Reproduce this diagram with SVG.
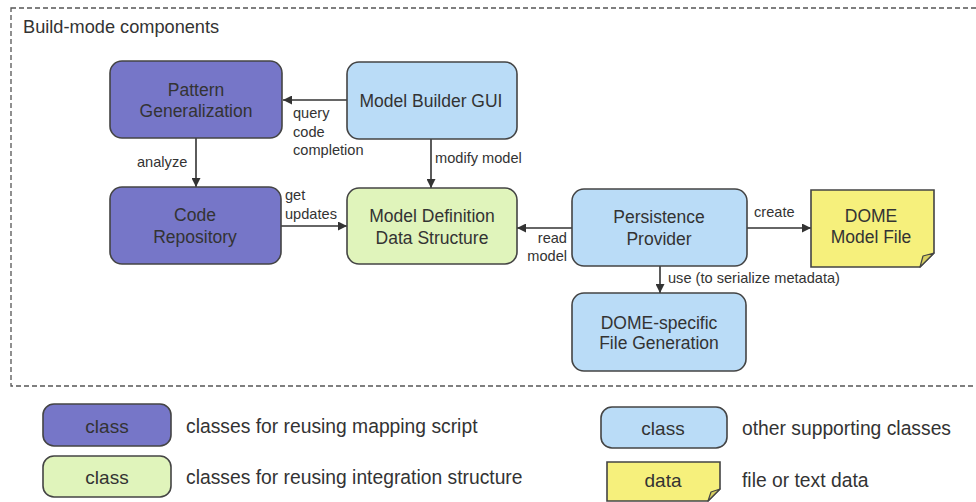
<svg xmlns="http://www.w3.org/2000/svg" width="976" height="502" viewBox="0 0 976 502">
  <defs>
    <marker id="arrow" viewBox="0 0 10 10" refX="10" refY="5" markerWidth="9" markerHeight="9" markerUnits="userSpaceOnUse" orient="auto">
      <path d="M0,0 L10,5 L0,10 Z" fill="#333"/>
    </marker>
    <style>
      .frame { fill: none; stroke: #555; stroke-width: 1.3; stroke-dasharray: 5 3; }
      .box { stroke: #444; stroke-width: 1.6; }
      .mapping { fill: #7676c8; }
      .integration { fill: #e0f4bb; }
      .support { fill: #badcf7; }
      .data { fill: #f6f07c; }
      .fold { fill: #d8d060; stroke: #444; stroke-width: 1.2; stroke-linejoin: round; }
      .edge { fill: none; stroke: #333; stroke-width: 1.6; marker-end: url(#arrow); }
      text { font-family: "Liberation Sans", Arial, sans-serif; fill: #333; }
      .node-label { font-size: 17.5px; text-anchor: middle; }
      .edge-label { font-size: 14.6px; }
      .title { font-size: 18.2px; }
      .legend-text { font-size: 19.3px; }
      .legend-key { font-size: 19px; text-anchor: middle; }
    </style>
  </defs>

  <!-- build-mode boundary -->
  <rect class="frame" x="11" y="8" width="980" height="378"/>
  <text class="title" x="23" y="33">Build-mode components</text>

  <!-- connectors -->
  <g id="connectors">
    <line class="edge" x1="347" y1="100" x2="283" y2="100"/>
    <line class="edge" x1="196" y1="138" x2="196" y2="187"/>
    <line class="edge" x1="431" y1="139" x2="431" y2="188"/>
    <line class="edge" x1="281" y1="226" x2="347" y2="226"/>
    <line class="edge" x1="572" y1="228" x2="517" y2="228"/>
    <line class="edge" x1="747" y1="228" x2="811" y2="228"/>
    <line class="edge" x1="660" y1="266" x2="660" y2="293"/>

    <text class="edge-label" x="293" y="118">query</text>
    <text class="edge-label" x="293" y="137">code</text>
    <text class="edge-label" x="293" y="155">completion</text>
    <text class="edge-label" x="137" y="167">analyze</text>
    <text class="edge-label" x="435" y="163">modify model</text>
    <text class="edge-label" x="285" y="200">get</text>
    <text class="edge-label" x="285" y="219">updates</text>
    <text class="edge-label" x="567" y="243" text-anchor="end">read</text>
    <text class="edge-label" x="567" y="261" text-anchor="end">model</text>
    <text class="edge-label" x="754" y="217">create</text>
    <text class="edge-label" x="668" y="283">use (to serialize metadata)</text>
  </g>

  <!-- nodes -->
  <g id="pattern-generalization">
    <rect class="box mapping" x="110" y="61" width="172" height="77" rx="12"/>
    <text class="node-label" x="196" y="96">Pattern</text>
    <text class="node-label" x="196" y="117">Generalization</text>
  </g>

  <g id="model-builder-gui">
    <rect class="box support" x="347" y="62" width="170" height="77" rx="12"/>
    <text class="node-label" x="431" y="107">Model Builder GUI</text>
  </g>

  <g id="code-repository">
    <rect class="box mapping" x="110" y="187" width="171" height="77" rx="12"/>
    <text class="node-label" x="195" y="221">Code</text>
    <text class="node-label" x="195" y="243">Repository</text>
  </g>

  <g id="model-definition">
    <rect class="box integration" x="347" y="188" width="170" height="76" rx="12"/>
    <text class="node-label" x="432" y="222">Model Definition</text>
    <text class="node-label" x="432" y="244">Data Structure</text>
  </g>

  <g id="persistence-provider">
    <rect class="box support" x="572" y="189" width="175" height="77" rx="12"/>
    <text class="node-label" x="659" y="223">Persistence</text>
    <text class="node-label" x="659" y="245">Provider</text>
  </g>

  <g id="dome-model-file">
    <path class="box data" d="M811,190 H934 V253 L920,267 H811 Z"/>
    <path class="fold" d="M934,253 L920,267 L923,256 Z"/>
    <text class="node-label" x="871" y="222">DOME</text>
    <text class="node-label" x="871" y="243">Model File</text>
  </g>

  <g id="dome-file-generation">
    <rect class="box support" x="572" y="293" width="174" height="78" rx="12"/>
    <text class="node-label" x="659" y="329">DOME-specific</text>
    <text class="node-label" x="659" y="349">File Generation</text>
  </g>

  <!-- legend -->
  <g id="legend-mapping">
    <rect class="box mapping" x="43" y="404" width="128" height="42" rx="11"/>
    <text class="legend-key" x="107" y="433">class</text>
    <text class="legend-text" x="186" y="433">classes for reusing mapping script</text>
  </g>
  <g id="legend-integration">
    <rect class="box integration" x="43" y="456" width="128" height="41" rx="11"/>
    <text class="legend-key" x="107" y="484">class</text>
    <text class="legend-text" x="186" y="484">classes for reusing integration structure</text>
  </g>
  <g id="legend-support">
    <rect class="box support" x="601" y="407" width="126" height="41" rx="11"/>
    <text class="legend-key" x="663" y="435">class</text>
    <text class="legend-text" x="742" y="435">other supporting classes</text>
  </g>
  <g id="legend-data">
    <path class="box data" d="M607,462 H720 V489 L708,501 H607 Z"/>
    <path class="fold" d="M720,489 L708,501 L711,492 Z"/>
    <text class="legend-key" x="663" y="487">data</text>
    <text class="legend-text" x="742" y="487">file or text data</text>
  </g>
</svg>
